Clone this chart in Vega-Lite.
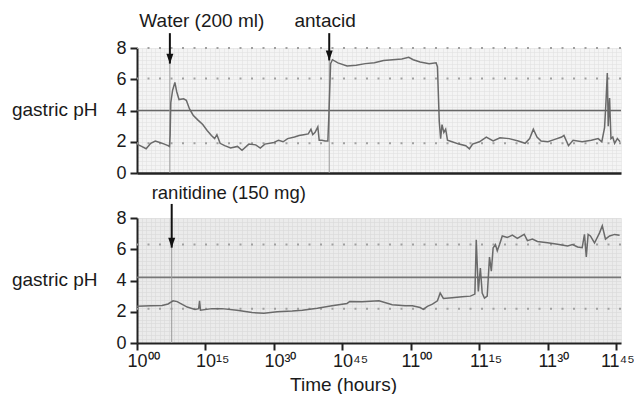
{
  "$schema": "https://vega.github.io/schema/vega-lite/v6.json",
  "padding": {"left": 11, "top": 11, "right": 0, "bottom": 0},
  "background": "white",
  "bounds": "flush",
  "spacing": 45,
  "config": {
    "font": "Liberation Sans",
    "view": {"stroke": null},
    "axis": {
      "labelFont": "Liberation Sans", "titleFont": "Liberation Sans",
      "labelFontSize": 18, "titleFontSize": 19, "titleFontWeight": "normal",
      "labelColor": "#1a1a1a", "titleColor": "#1a1a1a",
      "domainColor": "#222222", "domainWidth": 2, "tickColor": "#222222", "tickWidth": 2, "tickSize": 7,
      "grid": false, "labelPadding": 4, "labelOverlap": false
    },
    "axisY": {"labelOverlap": false, "labelSeparation": -30},
    "text": {"font": "Liberation Sans"}
  },
  "datasets": {
    "top": [
      {"m":0,"ph":1.85},{"m":1,"ph":1.7},{"m":2,"ph":1.55},{"m":3,"ph":1.9},{"m":4,"ph":2.05},{"m":5,"ph":1.95},{"m":6,"ph":1.85},{"m":6.8,"ph":1.75},{"m":7.1,"ph":1.7},{"m":7.25,"ph":2.4},{"m":7.4,"ph":4.5},{"m":7.8,"ph":5.3},{"m":8.3,"ph":5.8},{"m":8.7,"ph":5.2},{"m":9.2,"ph":4.7},{"m":10.2,"ph":4.75},{"m":10.8,"ph":4.65},{"m":11.5,"ph":4.1},{"m":12.3,"ph":3.7},{"m":13.3,"ph":3.4},{"m":14.4,"ph":3.1},{"m":15.4,"ph":2.7},{"m":16.3,"ph":2.4},{"m":17.0,"ph":2.2},{"m":17.5,"ph":2.45},{"m":18.2,"ph":1.9},{"m":19.2,"ph":1.75},{"m":20.5,"ph":1.6},{"m":22.0,"ph":1.7},{"m":23.0,"ph":1.45},{"m":24.5,"ph":1.85},{"m":26.0,"ph":1.8},{"m":27.0,"ph":1.6},{"m":28.0,"ph":1.85},{"m":30.0,"ph":1.95},{"m":31.0,"ph":2.1},{"m":32.0,"ph":2.0},{"m":33.0,"ph":2.2},{"m":34.5,"ph":2.3},{"m":35.5,"ph":2.4},{"m":36.5,"ph":2.45},{"m":37.5,"ph":2.5},{"m":38.1,"ph":2.8},{"m":38.5,"ph":2.45},{"m":39.0,"ph":2.6},{"m":39.6,"ph":2.95},{"m":39.9,"ph":2.1},{"m":40.5,"ph":2.1},{"m":41.2,"ph":2.05},{"m":41.8,"ph":2.05},{"m":42.0,"ph":3.5},{"m":42.4,"ph":7.0},{"m":42.8,"ph":7.25},{"m":44.0,"ph":7.05},{"m":46.0,"ph":6.85},{"m":48.0,"ph":6.9},{"m":50.0,"ph":7.0},{"m":52.0,"ph":7.05},{"m":54.0,"ph":7.2},{"m":56.0,"ph":7.25},{"m":58.0,"ph":7.3},{"m":59.5,"ph":7.4},{"m":60.5,"ph":7.25},{"m":62.0,"ph":7.1},{"m":64.0,"ph":7.0},{"m":65.5,"ph":7.05},{"m":65.8,"ph":6.8},{"m":66.2,"ph":3.3},{"m":66.5,"ph":2.2},{"m":66.8,"ph":3.1},{"m":67.2,"ph":2.6},{"m":67.6,"ph":2.8},{"m":68.0,"ph":2.1},{"m":69.0,"ph":2.0},{"m":70.5,"ph":1.85},{"m":72.0,"ph":1.75},{"m":72.8,"ph":1.55},{"m":73.5,"ph":1.85},{"m":75.0,"ph":2.0},{"m":76.5,"ph":2.3},{"m":78.0,"ph":2.05},{"m":79.5,"ph":2.25},{"m":81.5,"ph":2.2},{"m":83.5,"ph":2.05},{"m":85.0,"ph":1.9},{"m":86.0,"ph":2.2},{"m":86.8,"ph":2.8},{"m":87.6,"ph":2.3},{"m":88.5,"ph":2.05},{"m":90.0,"ph":2.0},{"m":91.5,"ph":2.15},{"m":93.0,"ph":2.3},{"m":93.5,"ph":2.4},{"m":94.5,"ph":1.75},{"m":95.5,"ph":2.1},{"m":97.5,"ph":2.0},{"m":99.5,"ph":2.1},{"m":101.0,"ph":2.2},{"m":101.8,"ph":2.0},{"m":102.4,"ph":2.9},{"m":102.7,"ph":4.5},{"m":103.0,"ph":6.4},{"m":103.2,"ph":3.0},{"m":103.5,"ph":4.8},{"m":103.8,"ph":2.2},{"m":104.2,"ph":2.3},{"m":104.6,"ph":1.9},{"m":105.2,"ph":2.2},{"m":105.8,"ph":2.0}
    ],
    "bottom": [
      {"m":0,"ph":2.35},{"m":3,"ph":2.38},{"m":5.5,"ph":2.4},{"m":6.8,"ph":2.5},{"m":7.9,"ph":2.7},{"m":8.8,"ph":2.65},{"m":9.4,"ph":2.55},{"m":11.0,"ph":2.3},{"m":12.7,"ph":2.15},{"m":13.5,"ph":2.2},{"m":13.7,"ph":2.7},{"m":13.9,"ph":2.1},{"m":16.4,"ph":2.2},{"m":18.6,"ph":2.2},{"m":21.9,"ph":2.1},{"m":25.2,"ph":1.95},{"m":27.8,"ph":1.9},{"m":30.7,"ph":2.0},{"m":34.0,"ph":2.05},{"m":36.2,"ph":2.1},{"m":39.5,"ph":2.23},{"m":42.7,"ph":2.38},{"m":46.0,"ph":2.53},{"m":46.6,"ph":2.66},{"m":49.3,"ph":2.64},{"m":53.0,"ph":2.7},{"m":55.9,"ph":2.45},{"m":58.7,"ph":2.38},{"m":60.3,"ph":2.38},{"m":62.0,"ph":2.27},{"m":62.7,"ph":2.15},{"m":63.6,"ph":2.35},{"m":64.7,"ph":2.49},{"m":65.8,"ph":2.7},{"m":66.4,"ph":3.2},{"m":67.1,"ph":2.85},{"m":69.0,"ph":2.9},{"m":71.2,"ph":2.96},{"m":73.0,"ph":3.0},{"m":74.0,"ph":3.13},{"m":74.3,"ph":6.6},{"m":74.75,"ph":3.3},{"m":75.2,"ph":4.8},{"m":75.6,"ph":3.2},{"m":76.1,"ph":2.87},{"m":76.7,"ph":3.0},{"m":77.2,"ph":5.5},{"m":77.6,"ph":4.6},{"m":78.0,"ph":6.1},{"m":78.5,"ph":6.3},{"m":78.9,"ph":5.9},{"m":79.4,"ph":6.3},{"m":80.0,"ph":6.85},{"m":81.1,"ph":6.75},{"m":82.2,"ph":6.9},{"m":83.3,"ph":6.7},{"m":84.8,"ph":6.96},{"m":85.5,"ph":6.55},{"m":86.6,"ph":6.65},{"m":87.7,"ph":6.5},{"m":89.9,"ph":6.42},{"m":92.1,"ph":6.32},{"m":94.3,"ph":6.21},{"m":95.4,"ph":6.3},{"m":96.5,"ph":6.15},{"m":97.5,"ph":6.1},{"m":98.0,"ph":6.95},{"m":98.4,"ph":5.5},{"m":98.8,"ph":6.95},{"m":99.3,"ph":6.85},{"m":100.2,"ph":6.4},{"m":101.3,"ph":7.05},{"m":101.9,"ph":7.5},{"m":102.6,"ph":6.65},{"m":103.5,"ph":6.85},{"m":104.6,"ph":6.95},{"m":105.7,"ph":6.9}
    ],
    "dotTop": [{"ph":1.9},{"ph":6.05},{"ph":8}],
    "solidTop": [{"ph":4}],
    "dotBottom": [{"ph":2.2},{"ph":6.3}],
    "solidBottom": [{"ph":4.2}],
    "arrowsTop": [{"m":7.2,"tip":7.0,"top":8.95},{"m":42.1,"tip":7.2,"top":8.95}],
    "arrowsBottom": [{"m":7.6,"tip":6.1,"top":8.9}],
    "labelsTop": [{"m":14.2,"ph":9.75,"text":"Water (200 ml)"},{"m":41.2,"ph":9.75,"text":"antacid"}],
    "labelsBottom": [{"m":20.1,"ph":9.6,"text":"ranitidine (150 mg)"}]
  },
  "vconcat": [
    {
      "width": 484, "height": 125,
      "view": {"fill": "#f4f4f4", "stroke": null},
      "resolve": {"axis": {"x": "independent", "y": "independent"}},
      "layer": [
        {
          "data": {"name": "top"},
          "mark": {"type": "point", "opacity": 0},
          "encoding": {
            "x": {"field": "m", "type": "quantitative", "scale": {"domain": [0, 106], "nice": false, "zero": false},
                  "axis": {"orient": "top", "grid": true, "gridColor": "#e0e0e0", "gridWidth": 0.6, "labels": false, "ticks": false, "domain": false, "title": null,
                           "values": [0,1,2,3,4,5,6,7,8,9,10,11,12,13,14,15,16,17,18,19,20,21,22,23,24,25,26,27,28,29,30,31,32,33,34,35,36,37,38,39,40,41,42,43,44,45,46,47,48,49,50,51,52,53,54,55,56,57,58,59,60,61,62,63,64,65,66,67,68,69,70,71,72,73,74,75,76,77,78,79,80,81,82,83,84,85,86,87,88,89,90,91,92,93,94,95,96,97,98,99,100,101,102,103,104,105,106]}},
            "y": {"field": "ph", "type": "quantitative", "scale": {"domain": [0, 8], "nice": false, "zero": false},
                  "axis": {"orient": "right", "grid": true, "gridColor": "#e0e0e0", "gridWidth": 0.6, "labels": false, "ticks": false, "domain": false, "title": null,
                           "values": [0,0.25,0.5,0.75,1,1.25,1.5,1.75,2,2.25,2.5,2.75,3,3.25,3.5,3.75,4,4.25,4.5,4.75,5,5.25,5.5,5.75,6,6.25,6.5,6.75,7,7.25,7.5,7.75,8]}}
          }
        },
        {
          "layer": [
            {
              "data": {"name": "dotTop"},
              "mark": {"type": "rule", "color": "#a0a0a0", "strokeWidth": 2, "strokeDash": [2, 9.5]},
              "encoding": {"y": {"field": "ph", "type": "quantitative"}}
            },
            {
              "data": {"name": "solidTop"},
              "mark": {"type": "rule", "color": "#666666", "strokeWidth": 1.7},
              "encoding": {"y": {"field": "ph", "type": "quantitative"}}
            },
            {
              "data": {"name": "arrowsTop"},
              "mark": {"type": "rule", "color": "#9a9a9a", "strokeWidth": 1},
              "encoding": {"x": {"field": "m", "type": "quantitative"}, "y": {"field": "tip", "type": "quantitative"}, "y2": {"datum": 0}}
            },
            {
              "data": {"name": "top"},
              "mark": {"type": "line", "color": "#6a6a6a", "strokeWidth": 1.5},
              "encoding": {
                "x": {"field": "m", "type": "quantitative",
                      "axis": {"labels": false, "ticks": false, "title": null, "domainWidth": 2.5}},
                "y": {"field": "ph", "type": "quantitative",
                      "axis": {"values": [0, 2, 4, 6, 8], "tickCount": 5, "labelOverlap": false, "labelBound": false, "labelSeparation": -30, "title": "gastric pH", "titleAngle": 0, "titleAlign": "right", "titleBaseline": "middle", "titleX": -40, "titleY": 61}}
              }
            },
            {
              "data": {"name": "arrowsTop"},
              "mark": {"type": "rule", "color": "#111111", "strokeWidth": 2},
              "encoding": {"x": {"field": "m", "type": "quantitative"}, "y": {"field": "top", "type": "quantitative"}, "y2": {"field": "tip"}}
            },
            {
              "data": {"name": "arrowsTop"},
              "mark": {"type": "point", "shape": "M-0.35,-1L0.35,-1L0,0Z", "filled": true, "color": "#111111", "opacity": 1, "size": 400},
              "encoding": {"x": {"field": "m", "type": "quantitative"}, "y": {"field": "tip", "type": "quantitative"}}
            },
            {
              "data": {"name": "labelsTop"},
              "mark": {"type": "text", "fontSize": 19, "color": "#1a1a1a", "align": "center", "baseline": "middle"},
              "encoding": {"x": {"field": "m", "type": "quantitative"}, "y": {"field": "ph", "type": "quantitative"}, "text": {"field": "text"}}
            }
          ]
        }
      ]
    },
    {
      "width": 484, "height": 125,
      "view": {"fill": "#ebebeb", "stroke": null},
      "resolve": {"axis": {"x": "independent", "y": "independent"}},
      "layer": [
        {
          "data": {"name": "bottom"},
          "mark": {"type": "point", "opacity": 0},
          "encoding": {
            "x": {"field": "m", "type": "quantitative", "scale": {"domain": [0, 106], "nice": false, "zero": false},
                  "axis": {"orient": "top", "grid": true, "gridColor": "#d9d9d9", "gridWidth": 0.6, "labels": false, "ticks": false, "domain": false, "title": null,
                           "values": [0,1,2,3,4,5,6,7,8,9,10,11,12,13,14,15,16,17,18,19,20,21,22,23,24,25,26,27,28,29,30,31,32,33,34,35,36,37,38,39,40,41,42,43,44,45,46,47,48,49,50,51,52,53,54,55,56,57,58,59,60,61,62,63,64,65,66,67,68,69,70,71,72,73,74,75,76,77,78,79,80,81,82,83,84,85,86,87,88,89,90,91,92,93,94,95,96,97,98,99,100,101,102,103,104,105,106]}},
            "y": {"field": "ph", "type": "quantitative", "scale": {"domain": [0, 8], "nice": false, "zero": false},
                  "axis": {"orient": "right", "grid": true, "gridColor": "#d9d9d9", "gridWidth": 0.6, "labels": false, "ticks": false, "domain": false, "title": null,
                           "values": [0,0.25,0.5,0.75,1,1.25,1.5,1.75,2,2.25,2.5,2.75,3,3.25,3.5,3.75,4,4.25,4.5,4.75,5,5.25,5.5,5.75,6,6.25,6.5,6.75,7,7.25,7.5,7.75,8]}}
          }
        },
        {
          "layer": [
            {
              "data": {"name": "dotBottom"},
              "mark": {"type": "rule", "color": "#a0a0a0", "strokeWidth": 2, "strokeDash": [2, 9.5]},
              "encoding": {"y": {"field": "ph", "type": "quantitative"}}
            },
            {
              "data": {"name": "solidBottom"},
              "mark": {"type": "rule", "color": "#777777", "strokeWidth": 1.7},
              "encoding": {"y": {"field": "ph", "type": "quantitative"}}
            },
            {
              "data": {"name": "arrowsBottom"},
              "mark": {"type": "rule", "color": "#9a9a9a", "strokeWidth": 1},
              "encoding": {"x": {"field": "m", "type": "quantitative"}, "y": {"field": "tip", "type": "quantitative"}, "y2": {"datum": 0}}
            },
            {
              "data": {"name": "bottom"},
              "mark": {"type": "line", "color": "#6a6a6a", "strokeWidth": 1.5},
              "encoding": {
                "x": {"field": "m", "type": "quantitative",
                      "axis": {"values": [0, 15, 30, 45, 60, 75, 90, 105],
                               "labelExpr": "['10⁰⁰','10¹⁵','10³⁰','10⁴⁵','11⁰⁰','11¹⁵','11³⁰','11⁴⁵'][round(datum.value/15)]",
                               "labelAlign": "left", "labelPadding": 2, "labelFlush": false, "labelOverlap": false,
                               "labelOffset": {"condition": {"test": "datum.value == 105", "value": -16}, "value": -10},
                               "title": "Time (hours)", "titleX": 206, "titleY": 41, "titleBaseline": "middle", "titleAlign": "center"}},
                "y": {"field": "ph", "type": "quantitative",
                      "axis": {"values": [0, 2, 4, 6, 8], "tickCount": 5, "labelOverlap": false, "labelBound": false, "labelSeparation": -30, "title": "gastric pH", "titleAngle": 0, "titleAlign": "right", "titleBaseline": "middle", "titleX": -40, "titleY": 61}}
              }
            },
            {
              "data": {"name": "arrowsBottom"},
              "mark": {"type": "rule", "color": "#111111", "strokeWidth": 2},
              "encoding": {"x": {"field": "m", "type": "quantitative"}, "y": {"field": "top", "type": "quantitative"}, "y2": {"field": "tip"}}
            },
            {
              "data": {"name": "arrowsBottom"},
              "mark": {"type": "point", "shape": "M-0.35,-1L0.35,-1L0,0Z", "filled": true, "color": "#111111", "opacity": 1, "size": 400},
              "encoding": {"x": {"field": "m", "type": "quantitative"}, "y": {"field": "tip", "type": "quantitative"}}
            },
            {
              "data": {"name": "labelsBottom"},
              "mark": {"type": "text", "fontSize": 18.5, "color": "#1a1a1a", "align": "center", "baseline": "middle"},
              "encoding": {"x": {"field": "m", "type": "quantitative"}, "y": {"field": "ph", "type": "quantitative"}, "text": {"field": "text"}}
            }
          ]
        }
      ]
    }
  ]
}
